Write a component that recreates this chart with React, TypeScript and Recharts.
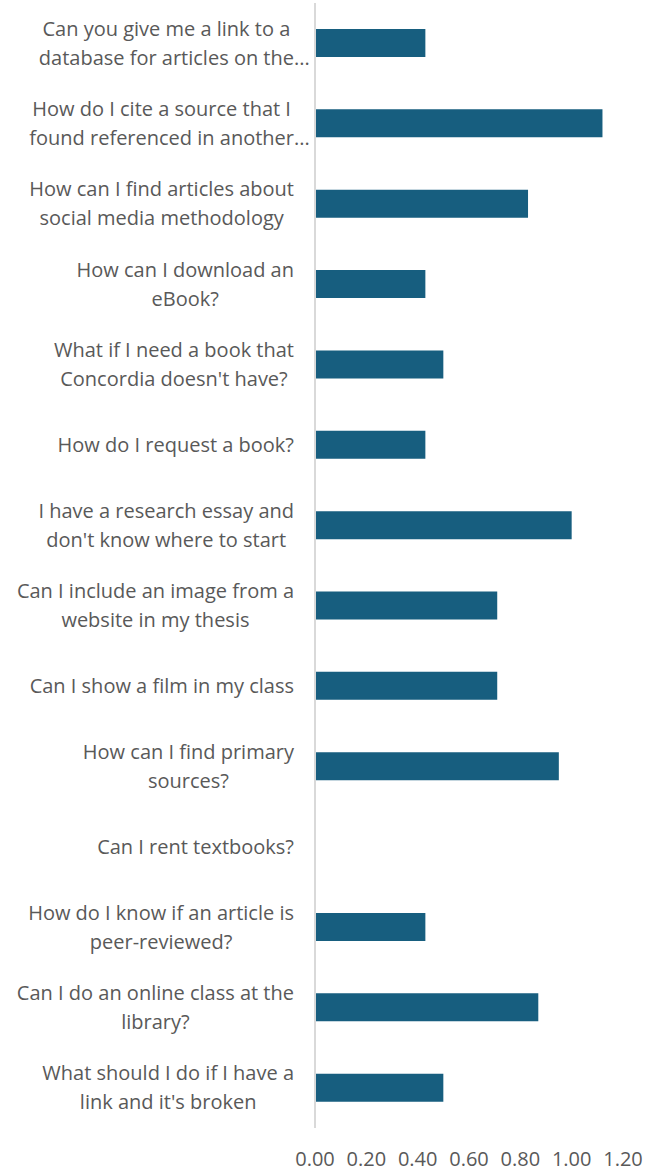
import React from 'react';
import { BarChart, Bar, XAxis, YAxis } from 'recharts';

const categories = [
  "Can you give me a link to a\ndatabase for articles on the...",
  "How do I cite a source that I\nfound referenced in another...",
  "How can I find articles about\nsocial media methodology",
  "How can I download an\neBook?",
  "What if I need a book that\nConcordia doesn't have?",
  "How do I request a book?",
  "I have a research essay and\ndon't know where to start",
  "Can I include an image from a\nwebsite in my thesis",
  "Can I show a film in my class",
  "How can I find primary\nsources?",
  "Can I rent textbooks?",
  "How do I know if an article is\npeer-reviewed?",
  "Can I do an online class at the\nlibrary?",
  "What should I do if I have a\nlink and it's broken",
];

const values = [0.43, 1.12, 0.83, 0.43, 0.5, 0.43, 1.0, 0.71, 0.71, 0.95, 0, 0.43, 0.87, 0.5];

const xTicks = [0, 0.2, 0.4, 0.6, 0.8, 1.0, 1.2];

const data = categories.map((name, i) => ({ name, value: values[i] }));

const FONT = 'Open Sans';
const FS = 20;
const LH = 29;
const TEXT_COLOR = '#595959';

let ctx: CanvasRenderingContext2D | null = null;
function measure(s: string): number {
  if (!ctx) ctx = document.createElement('canvas').getContext('2d');
  if (!ctx) return s.length * FS * 0.5;
  ctx.font = `${FS}px "${FONT}"`;
  return ctx.measureText(s).width;
}

function CategoryTick(props: any) {
  const { x, y, payload } = props;
  const lines: string[] = String(payload.value).split('\n');
  const stripped = lines.map((l) => l.replace(/\.\.\.$/, ''));
  const widths = stripped.map(measure);
  const blockW = Math.max(...widths);
  const center = x - blockW / 2;
  const n = lines.length;
  return (
    <g>
      {lines.map((l, i) => (
        <text
          key={i}
          x={center - widths[i] / 2}
          y={y + (i - (n - 1) / 2) * LH}
          dy="0.35em"
          textAnchor="start"
          fill={TEXT_COLOR}
          fontSize={FS}
          fontFamily={FONT}
        >
          {l}
        </text>
      ))}
    </g>
  );
}

export default function App() {
  return (
    <div style={{ position: 'absolute', left: 0, top: 0, width: 649, height: 1172, background: '#fff' }}>
      <BarChart
        layout="vertical"
        width={649}
        height={1172}
        data={data}
        margin={{ top: 3, right: 26, bottom: 0, left: 0 }}
        barCategoryGap={0}
      >
        <XAxis
          type="number"
          domain={[0, 1.2]}
          ticks={xTicks}
          axisLine={false}
          tickLine={false}
          tickSize={0}
          tickMargin={24}
          height={44}
          interval={0}
          tickFormatter={(v: number) => v.toFixed(2)}
          tick={{ fill: TEXT_COLOR, fontSize: FS, fontFamily: FONT }}
        />
        <YAxis
          type="category"
          dataKey="name"
          width={315}
          axisLine={{ stroke: '#d9d9d9', strokeWidth: 2 }}
          tickLine={false}
          tickSize={0}
          tickMargin={21}
          interval={0}
          tick={<CategoryTick />}
        />
        <Bar dataKey="value" fill="#175e7f" barSize={28} isAnimationActive={false} />
      </BarChart>
    </div>
  );
}
